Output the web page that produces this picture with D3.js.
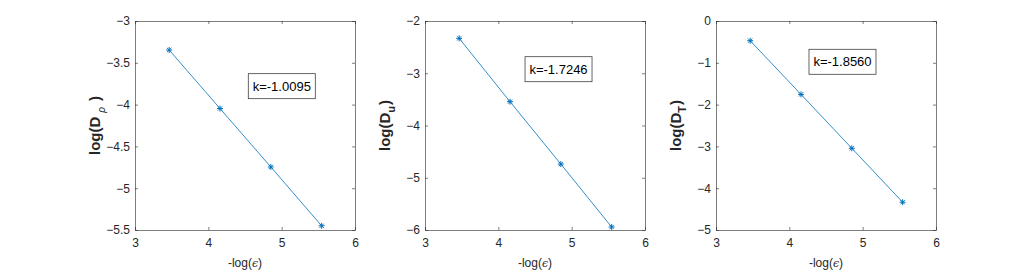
<!DOCTYPE html>
<html>
<head>
<meta charset="utf-8">
<script src="https://cdn.jsdelivr.net/npm/d3@7"></script>
<style>
  body { margin: 0; background: #fff; }
  svg { display: block; font-family: "Liberation Sans", Arial, sans-serif; }
</style>
</head>
<body>
<div id="chart"></div>
<script>
// -log(eps) values, shared by the three panels
const xVals = [3.466, 4.159, 4.852, 5.545];
// log of the errors
const rhoVals = [-3.347, -4.047, -4.746, -5.450];
const uVals = [-2.332, -3.544, -4.738, -5.943];
const tVals = [-0.471, -1.756, -3.045, -4.335];
// fitted slopes
const slopes = ["k=-1.0095", "k=-1.7246", "k=-1.8560"];
// tick labels
const xTicks = [3, 4, 5, 6];
const rhoTicks = [-3, -3.5, -4, -4.5, -5, -5.5];
const uTicks = [-2, -3, -4, -5, -6];
const tTicks = [0, -1, -2, -3, -4, -5];
const subs = ["\u03C1", "u", "T"];

var width = 1035, height = 273;
var pw = 220, ph = 209, top0 = 21;

// layout of each subplot (left edge, y domain, annotation box anchor in data units)
const panels = [
  { left: 135, ys: rhoVals, dom: [-5.5, -3], ticks: rhoTicks, ann: [4.545, -3.63] },
  { left: 425, ys: uVals, dom: [-6, -2], ticks: uTicks, ann: [4.364, -2.683] },
  { left: 716, ys: tVals, dom: [-5, 0], ticks: tTicks, ann: [4.268, -0.677] }
];

var svg = d3.select("#chart")
  .append("svg")
  .attr("width", width)
  .attr("height", height);

var blue = "#0072BD";
var axisCol = "#262626";

panels.forEach((p, i) => {
  var g = svg.append("g")
    .attr("transform", "translate(" + p.left + "," + top0 + ")");

  var x = d3.scaleLinear().domain([3, 6]).range([0, pw]);
  var y = d3.scaleLinear().domain(p.dom).range([ph, 0]);

  g.append("rect") // plot area
    .attr("width", pw)
    .attr("height", ph)
    .attr("fill", "#fff");

  // bottom axis, ticks pointing in
  var xa = g.append("g")
    .attr("transform", `translate(0,${ph})`)
    .call(d3.axisBottom(x).tickValues(xTicks).tickSize(-3).tickSizeOuter(0).tickPadding(8).tickFormat(d3.format("d")));
  // top axis ticks
  var xt = g.append("g")
    .call(d3.axisTop(x).tickValues(xTicks).tickSize(-3).tickSizeOuter(0).tickFormat(""));
  // left axis
  var ya = g.append("g")
    .call(d3.axisLeft(y).tickValues(p.ticks).tickSize(-3).tickSizeOuter(0).tickPadding(5).tickFormat(d => d3.format("")(d)));
  // right axis ticks
  var yr = g.append("g")
    .attr("transform", `translate(${pw},0)`)
    .call(d3.axisRight(y).tickValues(p.ticks).tickSize(-3).tickSizeOuter(0).tickFormat(""));

  [xa, xt, ya, yr].forEach(a => {
    a.selectAll("path").attr("stroke", axisCol).attr("stroke-width", 0.6);
    a.selectAll("line").attr("stroke", axisCol).attr("stroke-width", 0.6);
    a.selectAll("text")
      .attr("fill", "#262626")
      .style("font-size", "12px")
      .style("font-family", "'Liberation Sans', Arial, sans-serif");
  });

  // line
  var line = d3.line()
    .x((d, j) => x(xVals[j]))
    .y(d => y(d));

  g.append("path")
    .datum(p.ys)
    .attr("fill", "none")
    .attr("stroke", blue)
    .attr("stroke-width", 0.8)
    .attr("d", line);

  // asterisk markers
  var star = g.selectAll(".star")
    .data(p.ys)
    .enter()
    .append("g")
    .attr("class", "star")
    .attr("transform", (d, j) => `translate(${x(xVals[j])},${y(d)})`);
  var r = 3;
  [[-r, 0, r, 0], [0, -r, 0, r], [-r * 0.7, -r * 0.7, r * 0.7, r * 0.7], [-r * 0.7, r * 0.7, r * 0.7, -r * 0.7]].forEach(s => {
    star.append("line")
      .attr("x1", s[0]).attr("y1", s[1])
      .attr("x2", s[2]).attr("y2", s[3])
      .attr("stroke", blue)
      .attr("stroke-width", 1);
  });

  // slope annotation
  var ax = x(p.ann[0]), ay = y(p.ann[1]);
  g.append("rect")
    .attr("x", ax)
    .attr("y", ay)
    .attr("width", 67)
    .attr("height", 25)
    .attr("fill", "#fff")
    .attr("stroke", "#404040")
    .attr("stroke-width", 0.8);
  g.append("text")
    .attr("x", ax + 33.5)
    .attr("y", ay + 17)
    .attr("text-anchor", "middle")
    .style("font-size", "13px")
    .attr("fill", "#000")
    .text(slopes[i]);

  // x label
  var xl = g.append("text")
    .attr("x", pw / 2)
    .attr("y", ph + 37)
    .attr("text-anchor", "middle")
    .attr("fill", "#262626")
    .style("font-size", "12px");
  xl.append("tspan").text("-log(");
  xl.append("tspan").style("font-family", "'DejaVu Serif', serif").style("font-style", "italic").style("font-size", "11px").text("\u03F5");
  xl.append("tspan").text(")");

  // y label
  var yl = g.append("text")
    .attr("transform", `translate(-35,${ph / 2}) rotate(-90)`)
    .attr("text-anchor", "middle")
    .attr("fill", "#262626")
    .style("font-size", "15px")
    .style("font-weight", "bold");
  yl.append("tspan").text("log(D");
  yl.append("tspan")
    .attr("dy", 5)
    .attr("dx", i == 0 ? 4 : 0)
    .style("font-size", i == 0 ? "10px" : "11px")
    .style("font-weight", i == 0 ? "normal" : "bold")
    .style("font-style", i == 0 ? "italic" : "normal")
    .text(subs[i]);
  yl.append("tspan").attr("dy", -5).attr("dx", i == 0 ? 6 : 1).text(")");
});
</script>
</body>
</html>
